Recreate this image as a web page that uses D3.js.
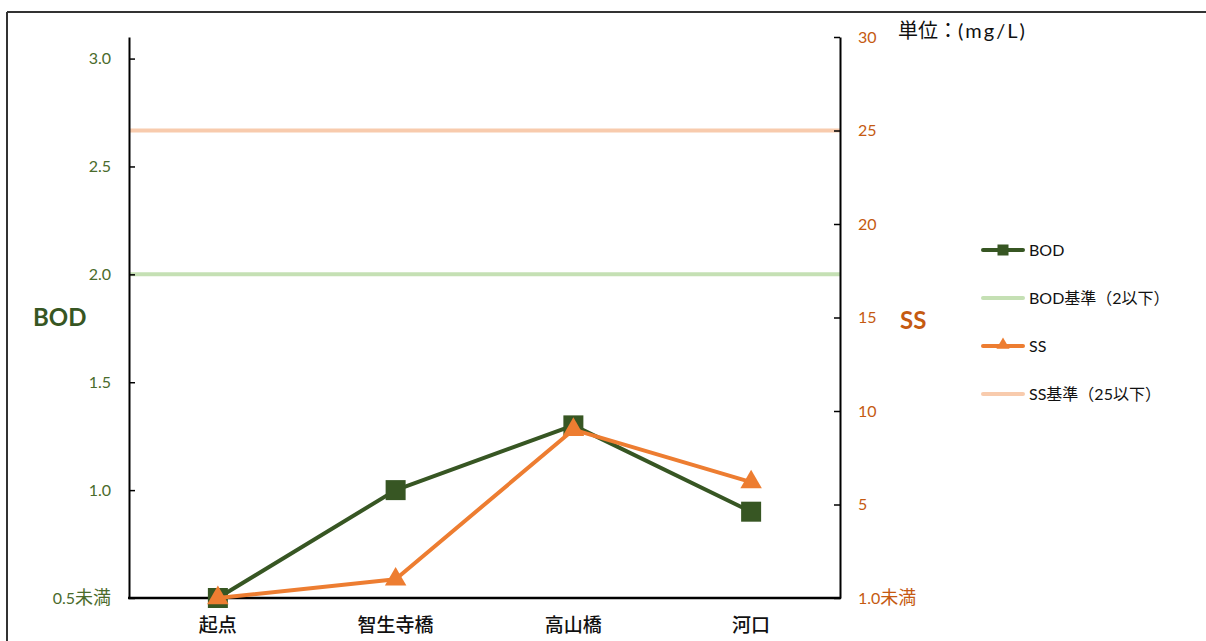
<!DOCTYPE html>
<html>
<head>
<meta charset="utf-8">
<script src="https://d3js.org/d3.v7.min.js"></script>
<style>
  body { margin: 0; background: #fff; }
  svg { display: block; font-family: Lato, "Noto Sans CJK JP", sans-serif; }
</style>
</head>
<body>
<div id="app"></div>
<script>
// data
const sites = ['起点', '智生寺橋', '高山橋', '河口'];
const bod = [0.5, 1.0, 1.3, 0.9];
const ss = [0, 1.0, 9.0, 6.2];
const bodLimit = 2;
const ssLimit = 25;
const bodTicks = [0.5, 1.0, 1.5, 2.0, 2.5, 3.0];
const ssTicks = [0, 5, 10, 15, 20, 25, 30];
const legendNames = ['BOD', 'BOD基準（2以下）', 'SS', 'SS基準（25以下）'];

const W = 1206, H = 641;
const green = '#375623', greenLight = '#C5E0B4';
const orange = '#ED7D31', orangeLight = '#F8CBAD', orangeText = '#C55A11';

const svg = d3.select('#app').append('svg')
    .attr('width', W)
    .attr('height', H);

// outer frame (top and left edges show)
svg.append('line').attr('x1', 7).attr('x2', W).attr('y1', 12).attr('y2', 12)
    .attr('stroke', '#333').attr('stroke-width', 2);
svg.append('line').attr('x1', 7).attr('x2', 7).attr('y1', 12).attr('y2', H)
    .attr('stroke', '#333').attr('stroke-width', 2);

const plotL = 129, plotR = 840, plotT = 37, plotB = 598;

const x = d3.scalePoint().domain(sites).range([plotL, plotR]).padding(0.5);
const yL = d3.scaleLinear().domain([0.5, 3.1]).range([plotB, plotT]);
const yR = d3.scaleLinear().domain([0, 30]).range([plotB, plotT]);

// standard lines
svg.append('line')
    .attr('x1', plotL).attr('x2', plotR)
    .attr('y1', yL(bodLimit)).attr('y2', yL(bodLimit))
    .attr('stroke', greenLight).attr('stroke-width', 4);
svg.append('line')
    .attr('x1', plotL).attr('x2', plotR)
    .attr('y1', yR(ssLimit)).attr('y2', yR(ssLimit))
    .attr('stroke', orangeLight).attr('stroke-width', 4);

// axes
const axL = svg.append('g')
    .attr('transform', `translate(${plotL},0)`)
    .call(d3.axisRight(yL).tickValues(bodTicks).tickSize(6).tickSizeOuter(0).tickFormat(''));
const axR = svg.append('g')
    .attr('transform', `translate(${plotR},0)`)
    .call(d3.axisLeft(yR).tickValues(ssTicks).tickSize(6).tickSizeOuter(0).tickFormat(''));
[axL, axR].forEach(a => {
    a.select('.domain').attr('stroke', '#000').attr('stroke-width', 2);
    a.selectAll('.tick line').attr('stroke', '#000').attr('stroke-width', 1.5);
});
svg.append('line')
    .attr('x1', plotL - 1).attr('x2', plotR + 1)
    .attr('y1', plotB).attr('y2', plotB)
    .attr('stroke', '#000').attr('stroke-width', 2.5);

// tick labels ("未満" part is set a little larger, as in the original)
function tickLabel(sel, numText) {
    sel.append('tspan').text(numText.num);
    if (numText.suffix) sel.append('tspan').attr('font-size', 18).text(numText.suffix);
}

svg.append('g').selectAll('text')
    .data(bodTicks)
    .join('text')
    .attr('x', 111)
    .attr('y', d => yL(d))
    .attr('dy', '0.35em')
    .attr('text-anchor', 'end')
    .attr('font-size', 16)
    .attr('fill', '#4A6B2C')
    .each(function(d) {
        tickLabel(d3.select(this), d === 0.5 ? {num: '0.5', suffix: '未満'} : {num: d3.format('.1f')(d)});
    });

svg.append('g').selectAll('text')
    .data(ssTicks)
    .join('text')
    .attr('x', 858)
    .attr('y', d => yR(d))
    .attr('dy', '0.35em')
    .attr('font-size', 16)
    .attr('fill', orangeText)
    .each(function(d) {
        tickLabel(d3.select(this), d === 0 ? {num: '1.0', suffix: '未満'} : {num: String(d)});
    });

// category labels
svg.append('g').selectAll('text')
    .data(sites)
    .join('text')
    .attr('x', d => x(d))
    .attr('y', 632)
    .attr('text-anchor', 'middle')
    .attr('font-size', 19)
    .attr('font-weight', 500)
    .attr('fill', '#111')
    .text(d => d);

// axis titles
svg.append('text')
    .attr('x', 33).attr('y', 326)
    .attr('font-size', 24).attr('font-weight', 'bold')
    .attr('fill', green)
    .text('BOD');
svg.append('text')
    .attr('x', 900).attr('y', 329)
    .attr('font-size', 24).attr('font-weight', 'bold')
    .attr('fill', orangeText)
    .text('SS');
const unit = svg.append('text')
    .attr('x', 898).attr('y', 38)
    .attr('font-size', 20)
    .attr('fill', '#111');
unit.append('tspan').text('単位：');
unit.append('tspan').attr('letter-spacing', 2).text('(mg/L)');

// series
const lineL = d3.line().x((d, i) => x(sites[i])).y(d => yL(d));
const lineR = d3.line().x((d, i) => x(sites[i])).y(d => yR(d));

svg.append('path')
    .attr('d', lineL(bod))
    .attr('fill', 'none')
    .attr('stroke', green).attr('stroke-width', 4)
    .attr('stroke-linejoin', 'round');
svg.append('g').selectAll('rect')
    .data(bod)
    .join('rect')
    .attr('x', (d, i) => x(sites[i]) - 10)
    .attr('y', d => yL(d) - 10)
    .attr('width', 20).attr('height', 20)
    .attr('fill', green);

const tri = d3.symbol().type(d3.symbolTriangle).size(200);
svg.append('path')
    .attr('d', lineR(ss))
    .attr('fill', 'none')
    .attr('stroke', orange).attr('stroke-width', 4)
    .attr('stroke-linejoin', 'round');
svg.append('g').selectAll('path')
    .data(ss)
    .join('path')
    .attr('d', tri)
    .attr('transform', (d, i) => `translate(${x(sites[i])},${yR(d)})`)
    .attr('fill', orange);

// legend
const legendY = [250, 298, 346, 394];
const legendColors = [green, greenLight, orange, orangeLight];
const lg = svg.append('g').selectAll('g')
    .data(legendNames)
    .join('g')
    .attr('transform', (d, i) => `translate(0,${legendY[i]})`);
lg.append('line')
    .attr('x1', 983).attr('x2', 1023)
    .attr('stroke', (d, i) => legendColors[i])
    .attr('stroke-width', 4)
    .attr('stroke-linecap', 'round');
lg.filter((d, i) => i === 0).append('rect')
    .attr('x', 997.5).attr('y', -5.5).attr('width', 11).attr('height', 11)
    .attr('fill', green);
lg.filter((d, i) => i === 2).append('path')
    .attr('d', d3.symbol().type(d3.symbolTriangle).size(75))
    .attr('transform', 'translate(1003,-1)')
    .attr('fill', orange);
lg.append('text')
    .attr('x', 1029)
    .attr('dy', '0.35em')
    .attr('font-size', 16)
    .attr('fill', '#111')
    .text(d => d);
</script>
</body>
</html>
